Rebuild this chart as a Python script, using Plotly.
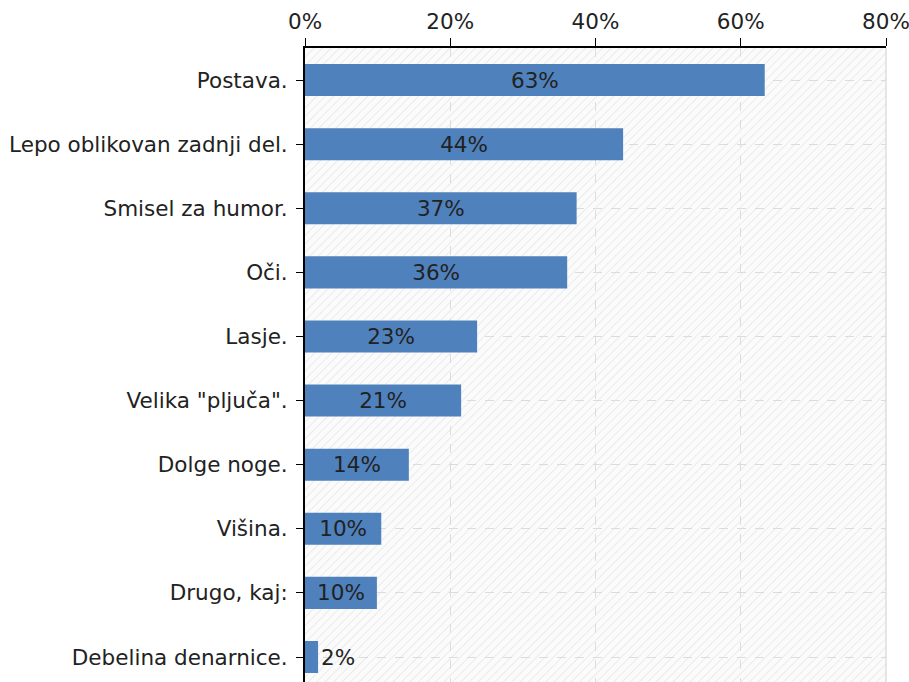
import base64
import plotly.graph_objects as go

categories = ["Postava.", "Lepo oblikovan zadnji del.", "Smisel za humor.", "Oči.", "Lasje.",
              "Velika \"pljuča\".", "Dolge noge.", "Višina.", "Drugo, kaj:", "Debelina denarnice."]
values = [63.3, 43.8, 37.4, 36.1, 23.7, 21.5, 14.3, 10.5, 9.9, 1.8]
labels = ["63%", "44%", "37%", "36%", "23%", "21%", "14%", "10%", "10%", "2%"]
x_ticks = [0, 20, 40, 60, 80]
x_ticktext = ["0%", "20%", "40%", "60%", "80%"]

FONT = "DejaVu Sans"
FS = 21.5
TXT = "#222222"
yidx = list(range(len(categories)))

# subtle diagonal hatch for the plot background
hatch_svg = (
    "<svg xmlns='http://www.w3.org/2000/svg' width='581' height='634' preserveAspectRatio='none'>"
    "<defs><pattern id='p' width='6' height='6' patternUnits='userSpaceOnUse' patternTransform='rotate(45)'>"
    "<line x1='0' y1='0' x2='0' y2='6' stroke='#e6e6e6' stroke-width='1.5'/></pattern></defs>"
    "<rect width='100%' height='100%' fill='#fbfbfb'/>"
    "<rect width='100%' height='100%' fill='url(#p)'/></svg>"
)
hatch_uri = "data:image/svg+xml;base64," + base64.b64encode(hatch_svg.encode()).decode()

fig = go.Figure(go.Bar(
    y=yidx, x=values, orientation="h",
    marker=dict(color="#4f81bd", line=dict(width=0)),
    width=0.5,
    text=labels, textposition="auto", insidetextanchor="middle",
    constraintext="none",
    textfont=dict(family=FONT, size=FS, color=TXT),
    outsidetextfont=dict(family=FONT, size=FS, color=TXT),
    insidetextfont=dict(family=FONT, size=FS, color=TXT),
    cliponaxis=False,
))

fig.update_layout(
    width=909, height=682,
    margin=dict(l=305, r=23, t=48, b=0),
    paper_bgcolor="white", plot_bgcolor="white",
    showlegend=False,
    font=dict(family=FONT, size=FS, color=TXT),
    xaxis=dict(
        side="top", range=[0, 80], tickvals=x_ticks, ticktext=x_ticktext,
        showline=True, linecolor="black", linewidth=2,
        ticks="outside", ticklen=8, tickcolor="black", tickwidth=1,
        showgrid=True, gridcolor="#dcdcdc", griddash="dash", gridwidth=1,
        zeroline=False, tickfont=dict(family=FONT, size=FS, color=TXT),
        ticklabeloverflow="allow",
    ),
    yaxis=dict(
        range=[9.39, -0.5], tickvals=yidx, ticktext=categories,
        showline=True, linecolor="black", linewidth=2,
        ticks="outside", ticklen=7, tickcolor="black",
        showgrid=True, gridcolor="#dcdcdc", griddash="dash", gridwidth=1,
        zeroline=False, tickfont=dict(family=FONT, size=FS, color=TXT),
        ticklabelstandoff=4, ticklabeloverflow="allow",
    ),
    images=[dict(source=hatch_uri, xref="paper", yref="paper", x=0, y=1,
                 sizex=1, sizey=1, xanchor="left", yanchor="top",
                 sizing="stretch", layer="below")],
    shapes=[dict(type="line", xref="paper", yref="paper", x0=1, x1=1, y0=0, y1=1,
                 line=dict(color="#d0d0d0", width=1))],
)

fig.write_html(
    "out.html",
    config={"displayModeBar": False},
    post_script="document.body.style.margin='0';document.body.style.overflow='hidden';",
)
